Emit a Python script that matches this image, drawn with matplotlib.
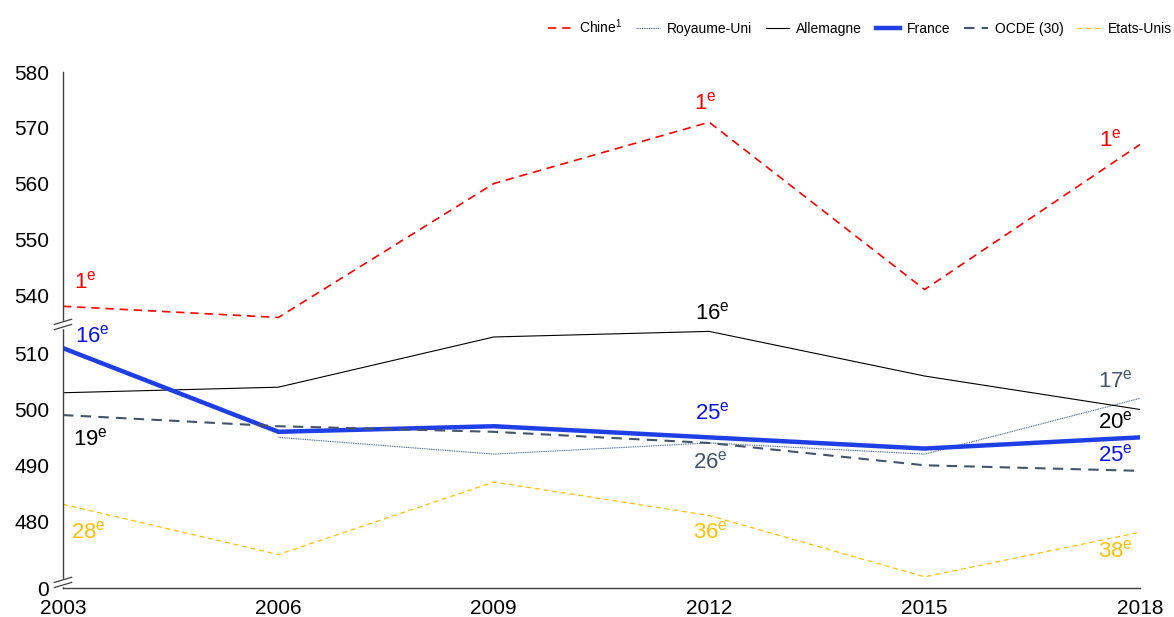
import numpy as np
import matplotlib
matplotlib.use("Agg")
import matplotlib.pyplot as plt

plt.rcParams['font.family'] = ['Liberation Sans', 'DejaVu Sans']
plt.rcParams['mathtext.fontset'] = 'custom'
plt.rcParams['mathtext.rm'] = 'Liberation Sans'
plt.rcParams['mathtext.it'] = 'Liberation Sans:italic'

years = [2003, 2006, 2009, 2012, 2015, 2018]
chine = [538, 536, 560, 571, 541, 567]
royaume_uni = [np.nan, 495, 492, 494, 492, 502]
allemagne = [503, 504, 513, 514, 506, 500]
france = [511, 496, 497, 495, 493, 495]
ocde = [499, 497, 496, 494, 490, 489]
etats_unis = [483, 474, 487, 481, 470, 478]

# rangs affichés (None = pas d'étiquette)
rang_chine = [1, None, None, 1, None, 1]
rang_ru = [None, None, None, 26, None, 17]
rang_all = [19, None, None, 16, None, 20]
rang_fr = [16, None, None, 25, None, 25]
rang_us = [28, None, None, 36, None, 38]

ytick_vals = [0, 480, 490, 500, 510, 540, 550, 560, 570, 580]


# axe coupé : 0..470 écrasé, 515..535 écrasé
def fwd(v):
    v = np.asarray(v, dtype=float)
    return np.where(v < 470, 468 + v * 2 / 470,
           np.where(v <= 515, v,
           np.where(v < 535, 515 + (v - 515) * 0.025, v - 19.5)))


def inv(u):
    u = np.asarray(u, dtype=float)
    return np.where(u < 470, (u - 468) * 470 / 2,
           np.where(u <= 515, u,
           np.where(u < 515.5, 515 + (u - 515) / 0.025, u + 19.5)))


fig = plt.figure(figsize=(11.74, 6.17), dpi=100)
ax = fig.add_axes([63 / 1174, 1 - 588 / 617, (1140 - 63) / 1174, (588 - 72) / 617])
ax.set_yscale('function', functions=(fwd, inv))

red = '#FF0000'
slate = '#44546A'
blue = '#1F3FE6'
yellow = '#FFC000'

ax.plot(years, chine, color=red, lw=1.2, ls=(0, (5, 3.5)), label='Chine$^{\\mathrm{1}}$')
ax.plot(years, royaume_uni, color='#5B7295', lw=0.8, ls=(0, (1, 0.6)), label='Royaume-Uni')
ax.plot(years, allemagne, color='black', lw=0.8, label='Allemagne')
ax.plot(years, france, color=blue, lw=3.2, label='France')
ax.plot(years, ocde, color=slate, lw=1.5, ls=(0, (5, 3.5)), label='OCDE (30)')
ax.plot(years, etats_unis, color=yellow, lw=0.9, ls=(0, (4, 3)), label='Etats-Unis')

ax.set_xlim(2003, 2018)
ax.set_ylim(0, 580)
ax.set_xticks(years)
ax.set_yticks(ytick_vals)
ax.tick_params(length=0, labelsize=15)
ax.tick_params(axis='y', pad=10)
ax.tick_params(axis='x', pad=8)
for s in ['top', 'right']:
    ax.spines[s].set_visible(False)
for s in ['left', 'bottom']:
    ax.spines[s].set_color('#404040')
    ax.spines[s].set_linewidth(1.0)

# marques de coupure
for yb in [515.25, 469.0]:
    y0 = (yb - 468) / (560.5 - 468)
    ax.add_patch(plt.Rectangle((-0.006, y0 - 0.006), 0.012, 0.012, transform=ax.transAxes,
                               color='white', clip_on=False, zorder=5))
    for d in [-0.005, 0.005]:
        ax.plot([-0.008, 0.008], [y0 + d - 0.005, y0 + d + 0.005], transform=ax.transAxes,
                color='#404040', lw=0.9, clip_on=False, zorder=6)

label_offsets = {
    'chine': [(22, 24), None, None, (-4, 19), None, (-30, 4)],
    'ru': [None, None, None, (1, -19), None, (-25, 17)],
    'all': [(27, -47), None, None, (3, 18), None, (-25, -13)],
    'fr': [(29, 12), None, None, (3, 24), None, (-25, -18)],
    'us': [(25, -28), None, None, (1, -17), None, (-25, -19)],
}
series = [
    ('chine', chine, rang_chine, red),
    ('ru', royaume_uni, rang_ru, slate),
    ('all', allemagne, rang_all, 'black'),
    ('fr', france, rang_fr, '#0A14F0'),
    ('us', etats_unis, rang_us, yellow),
]
for key, vals, ranks, col in series:
    for i, r in enumerate(ranks):
        if r is None:
            continue
        ax.annotate(f'{r}$^{{\\mathrm{{e}}}}$', xy=(years[i], vals[i]),
                    xytext=label_offsets[key][i], textcoords='offset pixels',
                    ha='center', va='center', fontsize=16, color=col)

fig.legend(loc='center right', bbox_to_anchor=(1.003, 1 - 27 / 617), ncol=6, frameon=False,
           fontsize=10, handlelength=1.7, columnspacing=1.0, handletextpad=0.5,
           borderaxespad=0)

fig.savefig('out.png', dpi=100)
